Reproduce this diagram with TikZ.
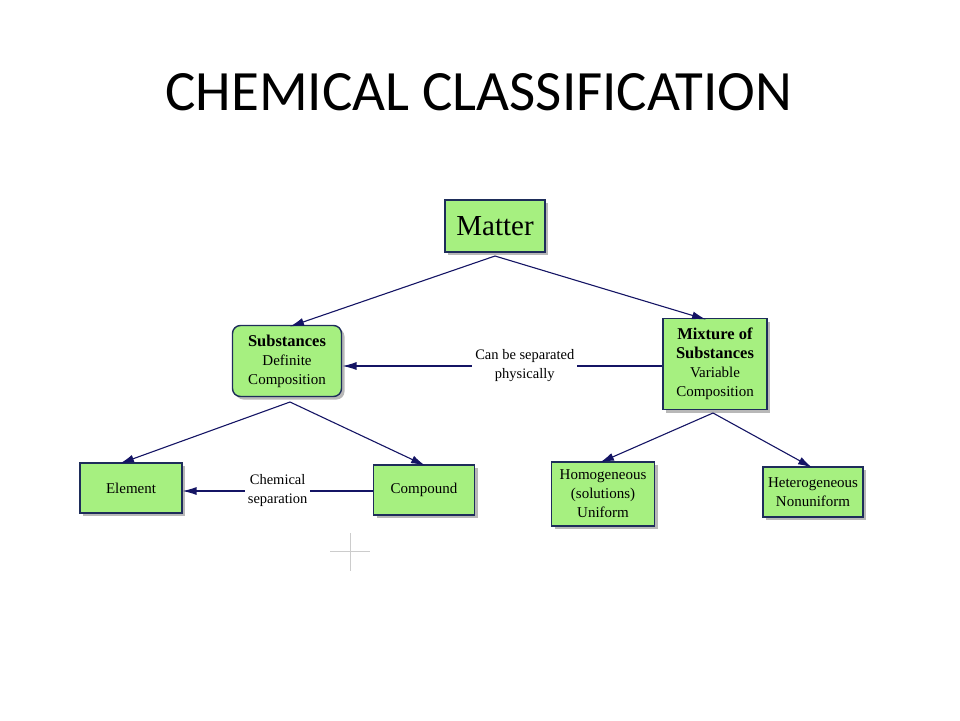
\documentclass[tikz,border=0pt]{standalone}
\usepackage{fontspec}
\setmainfont{Liberation Serif}
\newfontfamily\titlefont{Carlito}
\usetikzlibrary{arrows.meta,shadows}
\definecolor{boxfill}{RGB}{166,240,128}
\definecolor{boxedge}{RGB}{30,45,90}
\definecolor{arr}{RGB}{20,20,100}
\tikzset{
 box/.style={draw=boxedge,line width=1.4pt,fill=boxfill,align=center,inner sep=1pt,
   drop shadow={shadow xshift=3pt,shadow yshift=-3pt,fill=gray!70,opacity=0.8},font=\fontsize{15}{19}\selectfont},
 conn/.style={draw=arr,line width=1.1pt,-{Latex[length=14pt,width=8pt]}},
 lbl/.style={fill=white,align=center,inner sep=3pt,font=\fontsize{14.5}{19}\selectfont}
}
\begin{document}
\begin{tikzpicture}[x=1pt,y=-1pt]
\useasboundingbox (0,0) rectangle (960,720);
\node[font=\titlefont\fontsize{57}{60}\selectfont] (title) at (479,92) {CHEMICAL CLASSIFICATION};
\node[box,minimum width=100pt,minimum height=52pt,font=\fontsize{29}{32}\selectfont] (matter) at (495,226) {Matter};
\node[box,rounded corners=8pt,minimum width=109pt,minimum height=71pt] (sub) at (287,361) {\fontsize{16.5}{20}\selectfont\textbf{Substances}\\Definite\\Composition};
\node[box,minimum width=104pt,minimum height=91pt] (mix) at (715,364) {\fontsize{16.5}{21}\selectfont\textbf{Mixture of}\\\fontsize{16.5}{21}\selectfont\textbf{Substances}\\Variable\\Composition};
\node[box,minimum width=102pt,minimum height=50pt] (el) at (131,488) {Element};
\node[box,minimum width=101pt,minimum height=50pt] (comp) at (424,490) {Compound};
\node[box,minimum width=103pt,minimum height=64pt] (homo) at (603,494) {Homogeneous\\(solutions)\\Uniform};
\node[box,minimum width=100pt,minimum height=50pt] (het) at (813,492) {Heterogeneous\\Nonuniform};
\coordinate (mb) at (495,256);
\coordinate (sb) at (290,402);
\coordinate (xb) at (713,413);
\draw[conn] (mb) -- (290,326.5);
\draw[conn] (mb) -- (706,319.5);
\draw[conn] (sb) -- (120,463.5);
\draw[conn] (sb) -- (425,465.5);
\draw[conn] (xb) -- (600,462.5);
\draw[conn] (xb) -- (812,467.5);
\draw[conn] (mix.west |- 0,366) -- (342.5,366) node[lbl,pos=0.43] (l1) {Can be separated\\physically};
\draw[conn] (comp.west |- 0,491) -- (182.5,491) node[lbl,pos=0.5] (l2) {Chemical\\separation};
\draw[gray!40,line width=0.8pt] (330,551) -- (370,551) (350,533) -- (350,571);
\end{tikzpicture}
\end{document}
